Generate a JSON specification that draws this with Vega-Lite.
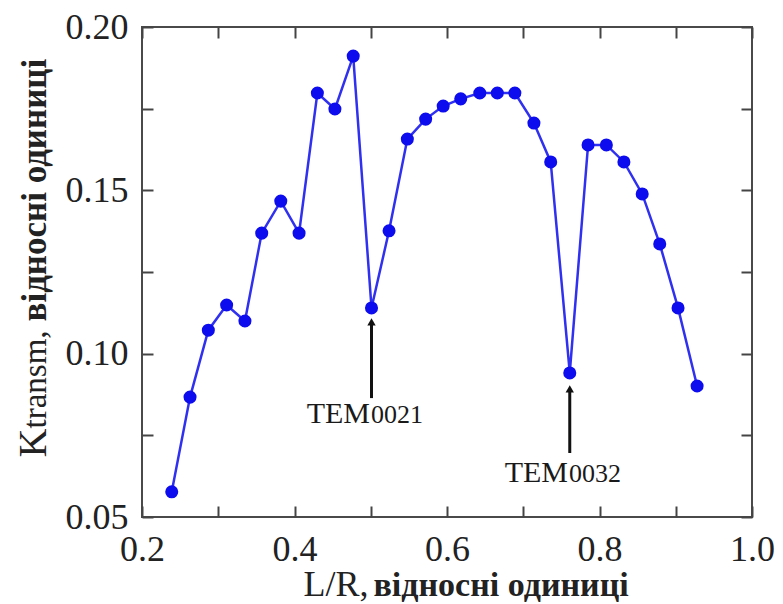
{
  "$schema": "https://vega.github.io/schema/vega-lite/v6.json",
  "width": 610,
  "height": 490,
  "autosize": {"type": "none"},
  "padding": {"left": 142, "top": 27, "right": 31, "bottom": 87},
  "background": "white",
  "config": {
    "font": "Liberation Serif",
    "view": {"stroke": "#4a4a4a", "strokeWidth": 2},
    "text": {"font": "Liberation Serif"},
    "axis": {
      "domain": false,
      "grid": false,
      "labelFont": "Liberation Serif",
      "titleFont": "Liberation Serif",
      "tickColor": "#444444",
      "tickWidth": 2,
      "tickSize": -11,
      "labelColor": "#222222",
      "titleColor": "#222222"
    }
  },
  "datasets": {
    "curve": [
      {"lr": 0.239, "k": 0.0577},
      {"lr": 0.263, "k": 0.0867},
      {"lr": 0.287, "k": 0.1072},
      {"lr": 0.311, "k": 0.1149},
      {"lr": 0.335, "k": 0.1100},
      {"lr": 0.357, "k": 0.1369},
      {"lr": 0.382, "k": 0.1467},
      {"lr": 0.406, "k": 0.1369},
      {"lr": 0.430, "k": 0.1798},
      {"lr": 0.453, "k": 0.1749},
      {"lr": 0.477, "k": 0.1911},
      {"lr": 0.501, "k": 0.1140},
      {"lr": 0.524, "k": 0.1376},
      {"lr": 0.548, "k": 0.1657},
      {"lr": 0.572, "k": 0.1718},
      {"lr": 0.595, "k": 0.1758},
      {"lr": 0.618, "k": 0.1780},
      {"lr": 0.643, "k": 0.1798},
      {"lr": 0.666, "k": 0.1798},
      {"lr": 0.689, "k": 0.1798},
      {"lr": 0.714, "k": 0.1706},
      {"lr": 0.736, "k": 0.1587},
      {"lr": 0.761, "k": 0.0941},
      {"lr": 0.785, "k": 0.1639},
      {"lr": 0.809, "k": 0.1639},
      {"lr": 0.832, "k": 0.1587},
      {"lr": 0.856, "k": 0.1489},
      {"lr": 0.879, "k": 0.1336},
      {"lr": 0.903, "k": 0.1140},
      {"lr": 0.928, "k": 0.0901}
    ],
    "arrows": [
      {"lr": 0.501, "from": 0.0864, "to": 0.1097},
      {"lr": 0.761, "from": 0.0696, "to": 0.0892}
    ],
    "labels": [
      {"lr": 0.499, "k": 0.0788, "main": "TEM", "sub": "0021"},
      {"lr": 0.7587, "k": 0.0607, "main": "TEM", "sub": "0032"}
    ]
  },
  "resolve": {"axis": {"x": "independent", "y": "independent"}},
  "layer": [
    {
      "data": {"name": "curve"},
      "mark": {"type": "line", "color": "#3030f0", "strokeWidth": 2.5},
      "encoding": {
        "x": {
          "field": "lr", "type": "quantitative",
          "scale": {"domain": [0.2, 1.0], "nice": false, "zero": false},
          "axis": {
            "orient": "bottom",
            "values": [0.2, 0.3, 0.4, 0.5, 0.6, 0.7, 0.8, 0.9, 1.0],
            "labelExpr": "round(datum.value*10) % 2 == 0 ? format(datum.value, '.1f') : ''",
            "labelFont": "Liberation Serif",
            "labelFontSize": 36,
            "labelPadding": 26,
            "labelFlush": false,
            "labelOverlap": false,
            "title": "L/R,",
            "titleFont": "Liberation Serif",
            "titleFontSize": 36,
            "titleFontWeight": "normal",
            "titleAlign": "left",
            "titleBaseline": "alphabetic",
            "titleX": 161,
            "titleY": 78
          }
        },
        "y": {
          "field": "k", "type": "quantitative",
          "scale": {"domain": [0.05, 0.2], "nice": false, "zero": false},
          "axis": {
            "orient": "left",
            "values": [0.05, 0.075, 0.1, 0.125, 0.15, 0.175, 0.2],
            "labelExpr": "round(datum.value*1000) % 50 == 0 ? format(datum.value, '.2f') : ''",
            "labelFont": "Liberation Serif",
            "labelFontSize": 36,
            "labelPadding": 25,
            "labelFlush": false,
            "labelOverlap": false,
            "title": "K",
            "titleFont": "Liberation Serif",
            "titleFontSize": 40,
            "titleFontWeight": "normal",
            "titleAngle": 270,
            "titleAlign": "left",
            "titleBaseline": "alphabetic",
            "titleX": -97,
            "titleY": 430
          }
        }
      }
    },
    {
      "data": {"name": "curve"},
      "mark": {"type": "point", "filled": true, "color": "#0c0cee", "size": 170, "opacity": 1},
      "encoding": {
        "x": {
          "field": "lr", "type": "quantitative",
          "scale": {"domain": [0.2, 1.0], "nice": false, "zero": false},
          "axis": {
            "orient": "top",
            "values": [0.2, 0.3, 0.4, 0.5, 0.6, 0.7, 0.8, 0.9, 1.0],
            "labels": false,
            "title": null
          }
        },
        "y": {
          "field": "k", "type": "quantitative",
          "scale": {"domain": [0.05, 0.2], "nice": false, "zero": false},
          "axis": {
            "orient": "right",
            "values": [0.05, 0.075, 0.1, 0.125, 0.15, 0.175, 0.2],
            "labels": false,
            "title": null
          }
        }
      }
    },
    {
      "data": {"name": "arrows"},
      "mark": {"type": "rule", "color": "#111111", "strokeWidth": 3},
      "encoding": {
        "x": {
          "field": "lr", "type": "quantitative",
          "scale": {"domain": [0.2, 1.0], "nice": false, "zero": false},
          "axis": {
            "orient": "bottom",
            "ticks": false,
            "labels": false,
            "title": "відносні одиниці",
            "titleFont": "Liberation Serif",
            "titleFontSize": 34,
            "titleFontWeight": "bold",
            "titleAlign": "left",
            "titleBaseline": "alphabetic",
            "titleX": 231,
            "titleY": 78
          }
        },
        "y": {
          "field": "from", "type": "quantitative",
          "scale": {"domain": [0.05, 0.2], "nice": false, "zero": false},
          "axis": {
            "orient": "left",
            "ticks": false,
            "labels": false,
            "title": "transm,",
            "titleFont": "Liberation Serif",
            "titleFontSize": 33,
            "titleFontWeight": "normal",
            "titleAngle": 270,
            "titleAlign": "left",
            "titleBaseline": "alphabetic",
            "titleX": -97,
            "titleY": 401
          }
        },
        "y2": {"field": "to"}
      }
    },
    {
      "data": {"name": "arrows"},
      "mark": {"type": "point", "shape": "triangle-up", "filled": true, "color": "#111111", "size": 70, "opacity": 1},
      "encoding": {
        "x": {
          "field": "lr", "type": "quantitative",
          "scale": {"domain": [0.2, 1.0], "nice": false, "zero": false},
          "axis": null
        },
        "y": {
          "field": "to", "type": "quantitative",
          "scale": {"domain": [0.05, 0.2], "nice": false, "zero": false},
          "axis": {
            "orient": "left",
            "ticks": false,
            "labels": false,
            "title": "відносні одиниці",
            "titleFont": "Liberation Serif",
            "titleFontSize": 35,
            "titleFontWeight": "bold",
            "titleAngle": 270,
            "titleAlign": "left",
            "titleBaseline": "alphabetic",
            "titleX": -97,
            "titleY": 294
          }
        }
      }
    },
    {
      "data": {"name": "labels"},
      "mark": {"type": "text", "font": "Liberation Serif", "fontSize": 30, "align": "right", "baseline": "alphabetic", "color": "#1a1a1a"},
      "encoding": {
        "x": {"field": "lr", "type": "quantitative", "scale": {"domain": [0.2, 1.0], "nice": false, "zero": false}, "axis": null},
        "y": {"field": "k", "type": "quantitative", "scale": {"domain": [0.05, 0.2], "nice": false, "zero": false}, "axis": null},
        "text": {"field": "main"}
      }
    },
    {
      "data": {"name": "labels"},
      "mark": {"type": "text", "font": "Liberation Serif", "fontSize": 26, "align": "left", "baseline": "alphabetic", "dx": 1, "color": "#1a1a1a"},
      "encoding": {
        "x": {"field": "lr", "type": "quantitative", "scale": {"domain": [0.2, 1.0], "nice": false, "zero": false}, "axis": null},
        "y": {"field": "k", "type": "quantitative", "scale": {"domain": [0.05, 0.2], "nice": false, "zero": false}, "axis": null},
        "text": {"field": "sub"}
      }
    }
  ]
}
